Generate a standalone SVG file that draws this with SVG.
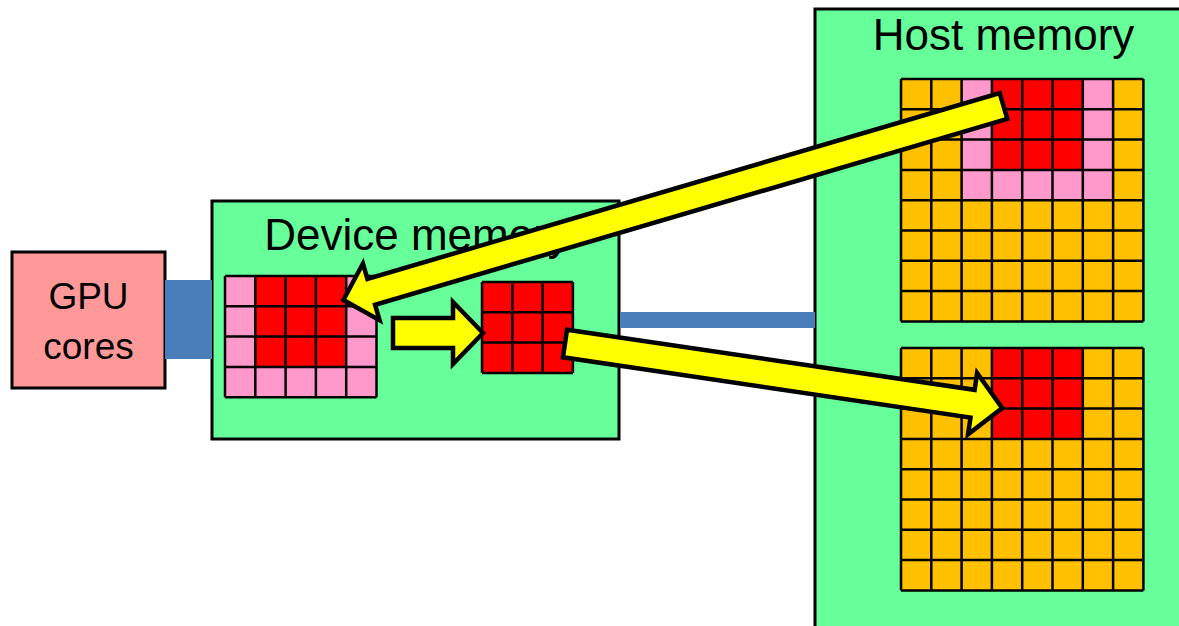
<svg xmlns="http://www.w3.org/2000/svg" xmlns:xlink="http://www.w3.org/1999/xlink" width="1179" height="626" viewBox="0 0 1179 626">
<style>
.box{stroke:#000;stroke-width:3}
.mem{fill:#66FF99}
.gpu{fill:#FF9999}
.lbl{font-family:"Liberation Sans",Arial,sans-serif;fill:#000;text-anchor:middle}
.o{fill:#FFC000}
.r{fill:#FF0000}
.p{fill:#FF99CC}
.gl{fill:none;stroke:#000;stroke-width:2.5}
.bus{fill:#4A7EBB}
.arr{fill:#FFFF00;stroke:#000;stroke-width:4.5;stroke-linejoin:miter}
</style>
<defs>
<path id="g8" class="gl" d="M0,0V242.4M30.3,0V242.4M60.6,0V242.4M90.9,0V242.4M121.2,0V242.4M151.5,0V242.4M181.8,0V242.4M212.1,0V242.4M242.4,0V242.4M0,0H242.4M0,30.3H242.4M0,60.6H242.4M0,90.9H242.4M0,121.2H242.4M0,151.5H242.4M0,181.8H242.4M0,212.1H242.4M0,242.4H242.4"/>
<path id="g54" class="gl" d="M0,0V121.2M30.3,0V121.2M60.6,0V121.2M90.9,0V121.2M121.2,0V121.2M151.5,0V121.2M0,0H151.5M0,30.3H151.5M0,60.6H151.5M0,90.9H151.5M0,121.2H151.5"/>
<path id="g3" class="gl" d="M0,0V90.9M30.3,0V90.9M60.6,0V90.9M90.9,0V90.9M0,0H90.9M0,30.3H90.9M0,60.6H90.9M0,90.9H90.9"/>
</defs>
<rect width="1179" height="626" fill="#FFFFFF"/>
<g id="gpu-cores">
<rect class="box gpu" x="12" y="252" width="153" height="136"/>
<text class="lbl" x="88.5" y="309" font-size="37">GPU</text>
<text class="lbl" x="88.5" y="359" font-size="37">cores</text>
</g>
<g id="device-memory">
<rect class="box mem" x="212" y="201" width="407" height="238"/>
<text class="lbl" x="417" y="250" font-size="44">Device memory</text>
<g id="device-tile">
<rect class="p" x="225" y="276" width="151.5" height="121.2"/>
<rect class="r" x="255.3" y="276" width="90.9" height="90.9"/>
<use xlink:href="#g54" x="225" y="276"/>
</g>
<g id="device-block">
<rect class="r" x="482" y="282" width="90.9" height="90.9"/>
<use xlink:href="#g3" x="482" y="282"/>
</g>
</g>
<g id="host-memory">
<rect class="box mem" x="815" y="9" width="380" height="640"/>
<text class="lbl" x="1003.5" y="50" font-size="44">Host memory</text>
<g id="host-input">
<rect class="o" x="901" y="79" width="242.4" height="242.4"/>
<rect class="p" x="961.6" y="79" width="151.5" height="121.2"/>
<rect class="r" x="991.9" y="79" width="90.9" height="90.9"/>
<use xlink:href="#g8" x="901" y="79"/>
</g>
<g id="host-output">
<rect class="o" x="901" y="348" width="242.4" height="242.4"/>
<rect class="r" x="991.9" y="348" width="90.9" height="90.9"/>
<use xlink:href="#g8" x="901" y="348"/>
</g>
</g>
<g id="connectors">
<rect class="bus" x="165" y="280" width="47" height="79"/>
<rect class="bus" x="620" y="312" width="195" height="16"/>
<path class="arr" transform="translate(1003.5,106) rotate(163.62)" d="M0,-13.5H659V-29.5L688,0L659,29.5V13.5H0Z"/>
<path class="arr" d="M393,318H453V302L483,333L453,364V348H393Z"/>
<path class="arr" transform="translate(565,343.5) rotate(8.4)" d="M0,-14H412V-31L442,0L412,31V14H0Z"/>
</g>
</svg>
